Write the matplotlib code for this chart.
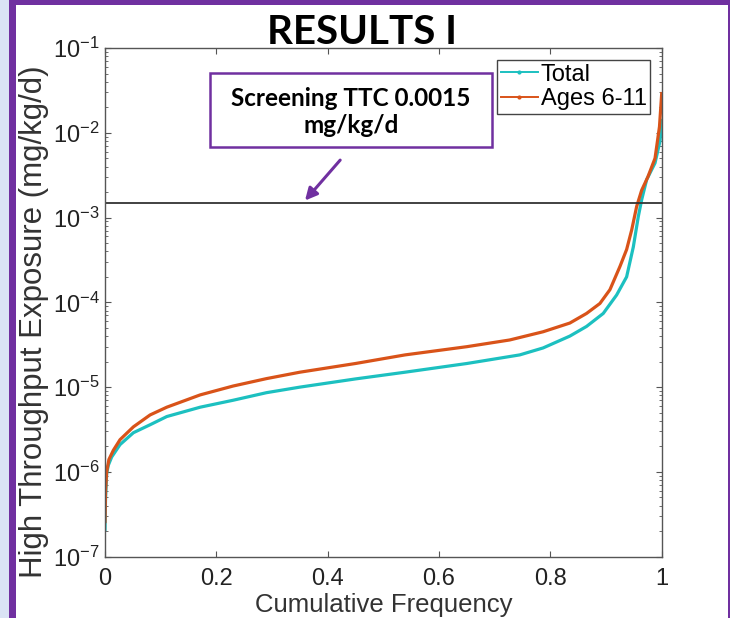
import matplotlib
matplotlib.use("Agg")
import matplotlib.pyplot as plt
from matplotlib.patches import Rectangle
from matplotlib.lines import Line2D

# cumulative frequency vs exposure (mg/kg/d)
total_x = [0.0, 0.001, 0.003, 0.006, 0.012, 0.027, 0.051, 0.081, 0.111, 0.171,
           0.230, 0.290, 0.350, 0.450, 0.539, 0.650, 0.745, 0.787, 0.835, 0.865,
           0.895, 0.919, 0.937, 0.949, 0.958, 0.964, 0.973, 0.988, 0.997, 1.0]
total_y = [2.1e-7, 5.0e-7, 9.6e-7, 1.2e-6, 1.5e-6, 2.1e-6, 2.9e-6, 3.6e-6, 4.5e-6, 5.8e-6,
           7.0e-6, 8.6e-6, 1.0e-5, 1.25e-5, 1.5e-5, 1.9e-5, 2.4e-5, 2.9e-5, 4.0e-5, 5.2e-5,
           7.4e-5, 1.22e-4, 2.0e-4, 4.5e-4, 1.03e-3, 1.62e-3, 2.8e-3, 4.4e-3, 8.0e-3, 1.4e-2]

kids_x = [0.0, 0.001, 0.003, 0.007, 0.015, 0.027, 0.051, 0.081, 0.111, 0.171,
          0.230, 0.290, 0.350, 0.450, 0.539, 0.650, 0.727, 0.787, 0.835, 0.865,
          0.889, 0.907, 0.925, 0.937, 0.946, 0.955, 0.964, 0.975, 0.988, 0.996, 1.0]
kids_y = [2.6e-7, 6.0e-7, 1.0e-6, 1.4e-6, 1.8e-6, 2.4e-6, 3.4e-6, 4.7e-6, 5.8e-6, 8.1e-6,
          1.03e-5, 1.26e-5, 1.5e-5, 1.9e-5, 2.4e-5, 3.0e-5, 3.6e-5, 4.5e-5, 5.7e-5, 7.4e-5,
          9.7e-5, 1.41e-4, 2.65e-4, 4.2e-4, 7.1e-4, 1.35e-3, 2.1e-3, 3.0e-3, 5.0e-3, 1.18e-2, 2.9e-2]

series_labels = ["Total", "Ages 6-11"]
ttc = 0.0015
x_ticks = [0, 0.2, 0.4, 0.6, 0.8, 1]
x_tick_labels = ["0", "0.2", "0.4", "0.6", "0.8", "1"]

TEAL = "#1CC0C0"
ORANGE = "#D95319"
PURPLE = "#7030A0"

plt.rcParams["font.family"] = ["Liberation Sans", "DejaVu Sans"]
plt.rcParams["mathtext.default"] = "regular"

W, H = 730, 618
fig = plt.figure(figsize=(7.3, 6.18), dpi=100, facecolor="white")
ax = fig.add_axes([105 / W, 1 - 556.7 / H, 556.7 / W, 508.7 / H])

ax.plot(total_x, total_y, color=TEAL, lw=2.3, solid_joinstyle="round")
ax.plot(kids_x, kids_y, color=ORANGE, lw=2.3, solid_joinstyle="round")
ax.axhline(ttc, color="#333333", lw=1.3)

ax.set_yscale("log")
ax.set_ylim(1e-7, 1e-1)
ax.set_xlim(0, 1)
ax.set_xticks(x_ticks)
ax.set_xticklabels(x_tick_labels)

for s in ax.spines.values():
    s.set_color("#555555")
    s.set_linewidth(1.0)
ax.tick_params(which="both", direction="in", top=True, right=True, colors="#555555",
               labelcolor="#222222", labelsize=17)
ax.tick_params(which="major", length=4.5)
ax.tick_params(which="minor", length=2.2)
ax.tick_params(axis="x", pad=8)
ax.tick_params(axis="y", pad=4)

ax.set_xlabel("Cumulative Frequency", fontsize=18.5, color="#333333", labelpad=2)
ax.set_ylabel("High Throughput Exposure (mg/kg/d)", fontsize=22.5, color="#333333")
ax.yaxis.set_label_coords(-0.101, 0.462)

handles = [Line2D([], [], color=TEAL, lw=1.4, marker=".", ms=4),
           Line2D([], [], color=ORANGE, lw=1.4, marker=".", ms=4)]
leg = ax.legend(handles, series_labels, loc="upper right", bbox_to_anchor=(0.979, 0.976),
                borderaxespad=0, fontsize=17, handlelength=1.6, handletextpad=0.1,
                labelspacing=0.12, borderpad=0.14, fancybox=False, framealpha=1)
leg.get_frame().set_edgecolor("#444444")
leg.get_frame().set_linewidth(1.0)

# screening TTC callout
fig.add_artist(Rectangle((210 / W, 1 - 147 / H), 282 / W, 74 / H, transform=fig.transFigure,
                         facecolor="white", edgecolor=PURPLE, lw=1.8, zorder=5))
fig.text(351 / W, 1 - 112 / H, "Screening TTC 0.0015\nmg/kg/d", ha="center", va="center",
         multialignment="center", fontsize=17.5, fontweight="bold", family="Lato",
         linespacing=1.2, zorder=6)
ax.annotate("", xy=(0.356, ttc), xycoords="data", xytext=(342 / W, 1 - 158 / H),
            textcoords="figure fraction",
            arrowprops=dict(arrowstyle="-|>", color=PURPLE, lw=2.2, mutation_scale=18))

fig.text(362 / W, 1 - 32 / H, "RESULTS I", ha="center", va="center", fontsize=29,
         fontweight="bold", family="Lato", zorder=6)

# slide frame
fig.add_artist(Rectangle((0, 0), 9 / W, 1, transform=fig.transFigure, color="#DAE3F5", lw=0))
fig.add_artist(Rectangle((9 / W, 0), 7 / W, 1, transform=fig.transFigure, color=PURPLE, lw=0))
fig.add_artist(Rectangle((9 / W, 1 - 4.5 / H), 1, 4.5 / H, transform=fig.transFigure, color=PURPLE, lw=0))
fig.add_artist(Rectangle((727.5 / W, 0), 3 / W, 1, transform=fig.transFigure, color=PURPLE, lw=0))

fig.savefig("out.png", dpi=100, facecolor="white")
